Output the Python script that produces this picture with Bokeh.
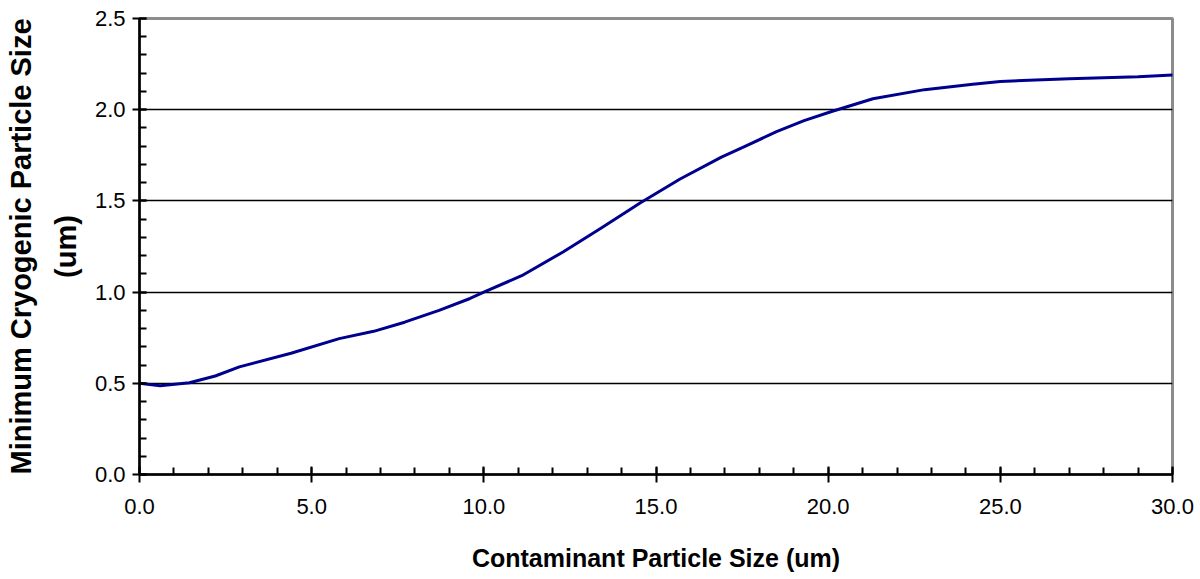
from bokeh.plotting import figure
from bokeh.models import Range1d, SingleIntervalTicker, NumeralTickFormatter
from bokeh.embed import file_html
from bokeh.resources import INLINE

# Data
contaminant_size = [0.0, 0.6, 1.45, 2.2, 2.9, 4.4, 5.8, 6.8, 7.7, 8.7, 9.6, 10.0, 11.1,
                    12.3, 13.4, 14.55, 15.7, 16.9, 17.6, 18.5, 19.3, 20.1, 21.3, 22.8, 24.2,
                    25.0, 27.0, 29.0, 30.0]
min_cryo_size = [0.50, 0.487, 0.503, 0.54, 0.59, 0.665, 0.745, 0.785, 0.835, 0.90, 0.965, 1.00, 1.09,
                 1.22, 1.35, 1.49, 1.62, 1.74, 1.80, 1.88, 1.94, 1.99, 2.06, 2.11, 2.14,
                 2.155, 2.17, 2.18, 2.19]

x_label = "Contaminant Particle Size (um)"
y_label = "Minimum Cryogenic Particle Size\n(um)"

FONT = "Liberation Sans"

p = figure(width=1200, height=579, output_backend="svg", toolbar_location=None,
           x_range=Range1d(0, 30), y_range=Range1d(0, 2.5),
           min_border_left=139, min_border_right=28, min_border_top=18, min_border_bottom=105)

p.line(contaminant_size, min_cryo_size, line_color="#00008f", line_width=3,
       line_join="round", line_cap="round")

p.background_fill_color = "white"
p.border_fill_color = "white"
p.outline_line_color = "#8c8c8c"
p.outline_line_width = 3

# x axis
xa = p.xaxis[0]
xa.ticker = SingleIntervalTicker(interval=5, num_minor_ticks=5)
xa.formatter = NumeralTickFormatter(format="0.0")
xa.axis_label = x_label
xa.axis_label_text_font = FONT
xa.axis_label_text_font_style = "bold"
xa.axis_label_text_font_size = "25px"
xa.axis_label_text_color = "black"
xa.axis_label_standoff = 27
xa.major_label_text_font = FONT
xa.major_label_text_font_size = "22px"
xa.major_label_text_color = "black"
xa.major_label_standoff = 16
xa.axis_line_color = "black"
xa.axis_line_width = 2.5
xa.major_tick_line_color = "black"
xa.major_tick_line_width = 2
xa.major_tick_in = 8
xa.major_tick_out = 8
xa.minor_tick_line_color = "black"
xa.minor_tick_line_width = 2
xa.minor_tick_in = 7
xa.minor_tick_out = 0

# y axis
ya = p.yaxis[0]
ya.ticker = SingleIntervalTicker(interval=0.5, num_minor_ticks=5)
ya.formatter = NumeralTickFormatter(format="0.0")
ya.axis_label = y_label
ya.axis_label_text_font = FONT
ya.axis_label_text_font_style = "bold"
ya.axis_label_text_font_size = "29px"
ya.axis_label_text_color = "black"
ya.axis_label_text_line_height = 1.4
ya.axis_label_standoff = 10
ya.major_label_text_font = FONT
ya.major_label_text_font_size = "22px"
ya.major_label_text_color = "black"
ya.major_label_standoff = 7
ya.axis_line_color = "black"
ya.axis_line_width = 2.5
ya.major_tick_line_color = "black"
ya.major_tick_line_width = 2
ya.major_tick_in = 7
ya.major_tick_out = 7
ya.minor_tick_line_color = "black"
ya.minor_tick_line_width = 2
ya.minor_tick_in = 7
ya.minor_tick_out = 0

# grid
p.xgrid.grid_line_color = None
p.ygrid.ticker = SingleIntervalTicker(interval=0.5)
p.ygrid.grid_line_color = "black"
p.ygrid.grid_line_width = 1.6

open("out.html", "w").write(file_html(p, INLINE))
